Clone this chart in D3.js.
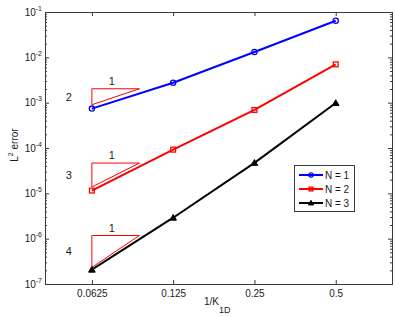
<!DOCTYPE html>
<html>
<head>
<meta charset="utf-8">
<script src="https://cdn.jsdelivr.net/npm/d3@7"></script>
<style>
  body { margin: 0; background: #fff; }
  text { font-family: "Liberation Sans", Arial, sans-serif; fill: #1a1a1a; }
</style>
</head>
<body>
<svg id="chart"></svg>
<script>
// mesh size h = 1/K_1D
var hValues = [0.0625, 0.125, 0.25, 0.5];
var xTickLabels = ["0.0625", "0.125", "0.25", "0.5"];

// L2 error per polynomial order
var errN1 = [7.4e-4, 2.75e-3, 1.31e-2, 6.4e-2];
var errN2 = [1.15e-5, 9.2e-5, 6.9e-4, 7.0e-3];
var errN3 = [2.07e-7, 2.9e-6, 4.7e-5, 9.8e-4];
var seriesNames = ["N = 1", "N = 2", "N = 3"];

// slope triangles: rate and lower-left corner value
var slopeRates = [2, 3, 4];
var slopeBase = [9.0e-4, 1.38e-5, 2.32e-7];
var slopeRun = [0.0625, 0.09375];

var yTickExps = [-7, -6, -5, -4, -3, -2, -1];

var margin = {top: 12, right: 3, bottom: 33, left: 45},
    width = 395 - margin.left - margin.right,
    height = 317 - margin.top - margin.bottom;

var x = d3.scaleLog().domain([0.0419, 0.808]).range([0, width]);
var y = d3.scaleLog().domain([1e-7, 1e-1]).range([height, 0]);

var svg = d3.select("#chart")
    .attr("width", 395)
    .attr("height", 317)
  .append("g")
    .attr("transform", "translate(" + margin.left + "," + margin.top + ")");

var axisColor = "#3a3a3a";

// minor ticks for log y
var minor = [];
yTickExps.forEach(function(e) {
  if (e >= -1) return;
  for (var m = 2; m <= 9; m++) minor.push(m * Math.pow(10, e));
});
var major = yTickExps.map(function(e) { return Math.pow(10, e); });

function styleAxis(g) {
  g.selectAll("path").remove();
  g.selectAll("line").attr("stroke", axisColor);
}

svg.append("g").call(d3.axisLeft(y).tickValues(minor).tickSize(-2).tickFormat("")).call(styleAxis);
svg.append("g").attr("transform", "translate(" + width + ",0)")
  .call(d3.axisRight(y).tickValues(minor).tickSize(-2).tickFormat("")).call(styleAxis);
svg.append("g").attr("transform", "translate(" + width + ",0)")
  .call(d3.axisRight(y).tickValues(major).tickSize(-4).tickFormat("")).call(styleAxis);

// left axis with 10^k labels
var yAxis = svg.append("g")
  .call(d3.axisLeft(y).tickValues(major).tickSize(-4).tickPadding(3).tickFormat(""))
  .call(styleAxis);
yAxis.selectAll("text").each(function(d) {
  var t = d3.select(this).attr("font-size", 10).attr("font-family", null);
  t.append("tspan").text("10");
  t.append("tspan").attr("font-size", 7).attr("dy", -5).text(Math.round(Math.log10(d)));
});

// bottom & top axes
svg.append("g").attr("transform", "translate(0," + height + ")")
  .call(d3.axisBottom(x).tickValues(hValues).tickSize(-4).tickPadding(6)
    .tickFormat(function(d, i) { return xTickLabels[i]; }))
  .call(styleAxis)
  .selectAll("text").attr("font-size", 10).attr("font-family", null);
svg.append("g")
  .call(d3.axisTop(x).tickValues(hValues).tickSize(-4).tickFormat(""))
  .call(styleAxis);

// box
svg.append("rect")
  .attr("width", width).attr("height", height)
  .attr("fill", "none").attr("stroke", axisColor).attr("stroke-width", 1)
  .attr("shape-rendering", "crispEdges");

// slope triangles
slopeRates.forEach(function(p, i) {
  var x0 = x(slopeRun[0]), x1 = x(slopeRun[1]);
  var yb = y(slopeBase[i]);
  var yt = y(slopeBase[i] * Math.pow(slopeRun[1] / slopeRun[0], p));
  svg.append("path")
    .attr("d", "M" + x0 + "," + yb + "L" + x0 + "," + yt + "L" + x1 + "," + yt + "Z")
    .attr("fill", "none").attr("stroke", "#ff0000").attr("stroke-width", 1);
  svg.append("text").attr("x", x0 + 20).attr("y", yt - 4)
    .attr("text-anchor", "middle").attr("font-size", 11).text("1");
  svg.append("text").attr("x", x0 - 23).attr("y", (yb + yt) / 2 + 4)
    .attr("text-anchor", "middle").attr("font-size", 11).text(p);
});

// series
var series = [
  {name: seriesNames[0], values: errN1, color: "#0000ff", marker: "circle"},
  {name: seriesNames[1], values: errN2, color: "#ff0000", marker: "square"},
  {name: seriesNames[2], values: errN3, color: "#000000", marker: "triangle"}
];

var valueline = d3.line()
  .x(function(d) { return x(d[0]); })
  .y(function(d) { return y(d[1]); });

function drawMarker(g, type, cx, cy, color, s) {
  if (type === "circle") {
    g.append("circle").attr("cx", cx).attr("cy", cy).attr("r", 2.6 * s)
      .attr("fill", "none").attr("stroke", color).attr("stroke-width", 1.3);
  } else if (type === "square") {
    g.append("rect").attr("x", cx - 2.4 * s).attr("y", cy - 2.4 * s)
      .attr("width", 4.8 * s).attr("height", 4.8 * s)
      .attr("fill", "none").attr("stroke", color).attr("stroke-width", 1.3);
  } else {
    var r = 3.3 * s;
    g.append("path")
      .attr("d", "M" + cx + "," + (cy - r) + "L" + (cx + r) + "," + (cy + r * 0.75) +
                 "L" + (cx - r) + "," + (cy + r * 0.75) + "Z")
      .attr("fill", color).attr("stroke", color).attr("stroke-width", 1);
  }
}

series.forEach(function(s) {
  var pts = hValues.map(function(h, i) { return [h, s.values[i]]; });
  svg.append("path").datum(pts)
    .attr("d", valueline)
    .attr("fill", "none").attr("stroke", s.color).attr("stroke-width", 2);
  pts.forEach(function(d) {
    drawMarker(svg, s.marker, x(d[0]), y(d[1]), s.color, 1);
  });
});

// axis labels
svg.append("text")
  .attr("x", 204 - margin.left).attr("y", 305 - margin.top)
  .attr("font-size", 10)
  .call(function(t) {
    t.append("tspan").text("1/K");
    t.append("tspan").attr("font-size", 9).attr("dy", 8).text("1D");
  });

svg.append("text")
  .attr("transform", "translate(" + (18 - margin.left) + "," + (145 - margin.top) + ") rotate(-90)")
  .attr("text-anchor", "middle").attr("font-size", 10)
  .call(function(t) {
    t.append("tspan").text("L");
    t.append("tspan").attr("font-size", 7).attr("dy", -5).text("2");
    t.append("tspan").attr("dy", 5).text(" error");
  });

// legend
var lg = svg.append("g").attr("transform", "translate(" + (294 - margin.left) + "," + (165 - margin.top) + ")");
lg.append("rect").attr("width", 60).attr("height", 46)
  .attr("fill", "#fff").attr("stroke", axisColor).attr("stroke-width", 1)
  .attr("shape-rendering", "crispEdges");
series.forEach(function(s, i) {
  var yy = 10 + i * 14;
  lg.append("line").attr("x1", 5).attr("x2", 29).attr("y1", yy).attr("y2", yy)
    .attr("stroke", s.color).attr("stroke-width", 2);
  drawMarker(lg, s.marker, 17, yy, s.color, 0.8);
  lg.append("text").attr("x", 31).attr("y", yy + 3.5).attr("font-size", 10).text(s.name);
});
</script>
</body>
</html>
